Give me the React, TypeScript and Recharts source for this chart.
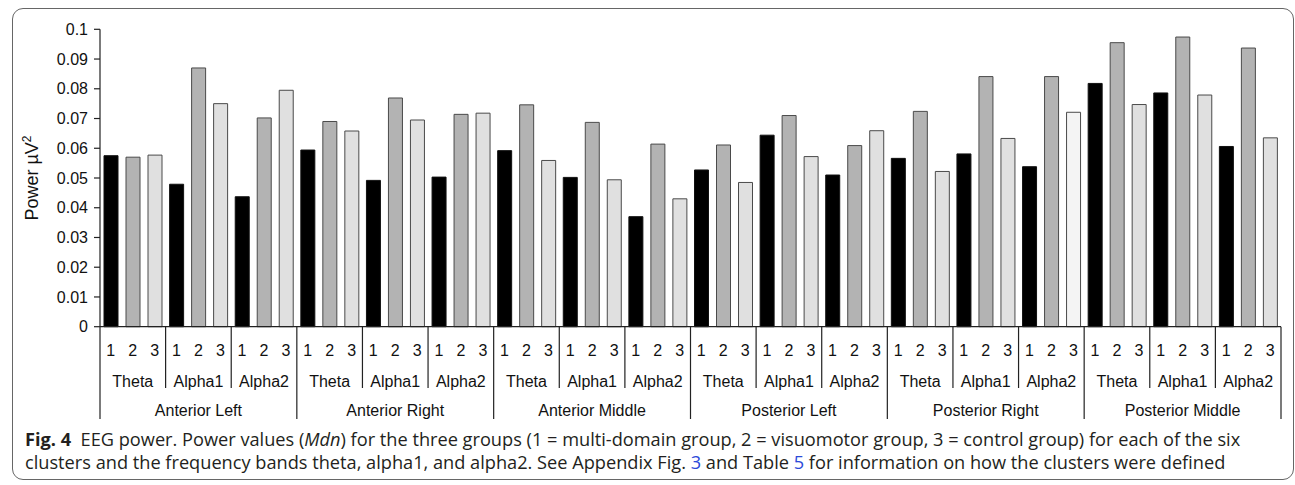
import React from "react";
import { BarChart, Bar, XAxis, YAxis, Cell } from "recharts";

const clusters = ["Anterior Left", "Anterior Right", "Anterior Middle", "Posterior Left", "Posterior Right", "Posterior Middle"];
const bands = ["Theta", "Alpha1", "Alpha2"];
const groupLabels = ["1", "2", "3"];

// values per cluster x band (18 entries each)
const group1 = [0.0575, 0.0479, 0.0437, 0.0594, 0.0492, 0.0503, 0.0592, 0.0502, 0.037, 0.0527, 0.0644, 0.051, 0.0566, 0.0581, 0.0538, 0.0818, 0.0786, 0.0606];
const group2 = [0.057, 0.087, 0.0702, 0.069, 0.0769, 0.0714, 0.0746, 0.0687, 0.0614, 0.0611, 0.071, 0.0609, 0.0724, 0.0841, 0.0841, 0.0955, 0.0974, 0.0937];
const group3 = [0.0577, 0.075, 0.0795, 0.0658, 0.0695, 0.0718, 0.0559, 0.0494, 0.043, 0.0485, 0.0572, 0.0659, 0.0522, 0.0633, 0.0721, 0.0747, 0.0779, 0.0635];

const yTicks = [0, 0.01, 0.02, 0.03, 0.04, 0.05, 0.06, 0.07, 0.08, 0.09, 0.1];

const data = group1.map((v, i) => ({
  key: clusters[Math.floor(i / 3)] + " " + bands[i % 3],
  cluster: clusters[Math.floor(i / 3)],
  band: bands[i % 3],
  g1: v,
  g2: group2[i],
  g3: group3[i],
}));

const CHART_W = 1295;
const CHART_H = 440;
const PLOT_LEFT = 100;
const PLOT_RIGHT = 1281;
const PLOT_TOP = 29.3;
const PLOT_BOTTOM = 326.7;
const BAR_SIZE = 14;
const BAR_GAP = 8;
const BAND_W = (PLOT_RIGHT - PLOT_LEFT) / data.length;
const FONT = "'Liberation Sans', Arial, sans-serif";
const LINE = "#222";

const MultiTick = (props: any) => {
  const { x, payload } = props;
  const i = payload.index;
  const left = x - BAND_W / 2;
  const right = x + BAND_W / 2;
  const step = BAR_SIZE + BAR_GAP;
  const isClusterStart = i % 3 === 0;
  const isLast = i === data.length - 1;
  return (
    <g>
      {groupLabels.map((g, k) => (
        <text key={k} x={x + (k - 1) * step} y={356} textAnchor="middle" fontSize={16} fontFamily={FONT} fill="#111">
          {g}
        </text>
      ))}
      <text x={x} y={387} textAnchor="middle" fontSize={16} fontFamily={FONT} fill="#111">
        {data[i].band}
      </text>
      {i % 3 === 1 && (
        <text x={x} y={416} textAnchor="middle" fontSize={16} fontFamily={FONT} fill="#111">
          {data[i].cluster}
        </text>
      )}
      <line x1={left} x2={left} y1={PLOT_BOTTOM} y2={isClusterStart ? 419 : 388} stroke={LINE} strokeWidth={1.2} />
      {isLast && <line x1={right} x2={right} y1={PLOT_BOTTOM} y2={419} stroke={LINE} strokeWidth={1.2} />}
    </g>
  );
};

const YLabel = () => (
  <text transform={`translate(38, ${(PLOT_TOP + PLOT_BOTTOM) / 2}) rotate(-90)`} textAnchor="middle" fontSize={18} fontFamily={FONT} fill="#111">
    Power µV<tspan fontSize={12} dy={-7}>2</tspan>
  </text>
);

export default function App() {
  return (
    <div style={{ position: "absolute", left: 0, top: 0, width: 1295, height: 485, background: "#fff", overflow: "hidden" }}>
      <div
        style={{
          position: "absolute",
          left: 12,
          top: 8,
          width: 1282,
          height: 472,
          border: "1.3px solid #666",
          borderRadius: 11,
          boxSizing: "border-box",
        }}
      />
      <div style={{ position: "absolute", left: 0, top: 0 }}>
        <BarChart
          width={CHART_W}
          height={CHART_H}
          data={data}
          margin={{ top: PLOT_TOP, right: CHART_W - PLOT_RIGHT, left: PLOT_LEFT - 60, bottom: 0 }}
          barSize={BAR_SIZE}
          barGap={BAR_GAP}
        >
          <XAxis
            dataKey="key"
            interval={0}
            tickLine={false}
            axisLine={{ stroke: LINE, strokeWidth: 1.2 }}
            height={CHART_H - PLOT_BOTTOM}
            tick={<MultiTick />}
          />
          <YAxis
            width={60}
            domain={[0, 0.1]}
            ticks={yTicks}
            interval={0}
            tickFormatter={(v: number) => String(v)}
            tickSize={6}
            tickMargin={6}
            axisLine={{ stroke: LINE, strokeWidth: 1.2 }}
            tickLine={{ stroke: LINE, strokeWidth: 1.2 }}
            tick={{ fontSize: 16, fontFamily: FONT, fill: "#111" }}
            label={<YLabel />}
          />
          <Bar dataKey="g1" fill="#000" stroke="#111" strokeWidth={1} isAnimationActive={false} />
          <Bar dataKey="g2" fill="#b3b3b3" stroke="#4a4a4a" strokeWidth={1} isAnimationActive={false} />
          <Bar dataKey="g3" fill="#e0e0e0" stroke="#4a4a4a" strokeWidth={1} isAnimationActive={false}>
            {data.map((d, i) => (
              <Cell key={i} fill={i === 14 ? "#f4f4f4" : "#e0e0e0"} />
            ))}
          </Bar>
        </BarChart>
      </div>
      <div
        style={{
          position: "absolute",
          left: 25,
          top: 428,
          fontFamily: "'Open Sans', 'Noto Sans', sans-serif",
          fontSize: 18.2,
          lineHeight: "23px",
          color: "#231f20",
          whiteSpace: "nowrap",
        }}
      >
        <div>
          <b>Fig. 4</b>&nbsp; EEG power. Power values (<i>Mdn</i>) for the three groups (1 = multi-domain group, 2 = visuomotor group, 3 = control group) for each of the six
        </div>
        <div>
          clusters and the frequency bands theta, alpha1, and alpha2. See Appendix Fig. <span style={{ color: "#2b4ad9" }}>3</span> and Table{" "}
          <span style={{ color: "#2b4ad9" }}>5</span> for information on how the clusters were defined
        </div>
      </div>
    </div>
  );
}
